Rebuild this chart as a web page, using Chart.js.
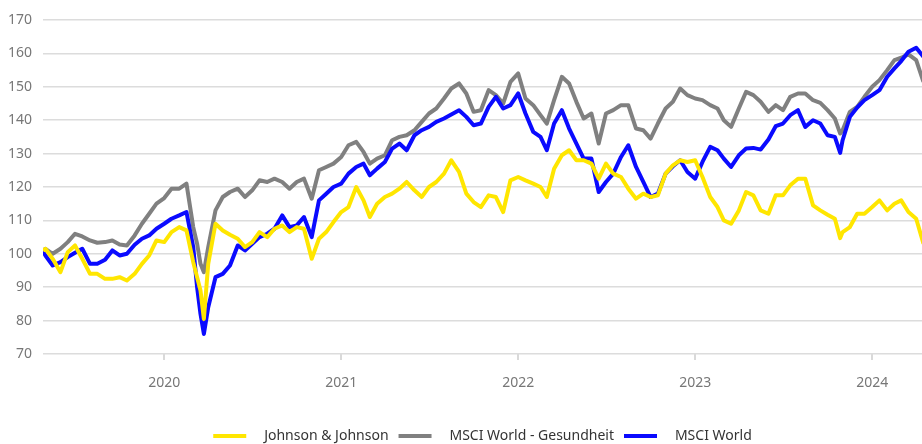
<!DOCTYPE html>
<html>
<head>
<meta charset="utf-8">
<title>Johnson & Johnson vs. MSCI World</title>
<script src="https://cdn.jsdelivr.net/npm/chart.js@4.4.1/dist/chart.umd.min.js"></script>
<style>
  html, body { margin: 0; padding: 0; background: #fff; }
  #wrap { position: relative; width: 922px; height: 444px; }
</style>
</head>
<body>
<div id="wrap"><canvas id="perfChart"></canvas></div>
<script>
// sample dates (roughly twice a month, plus a few extra around sharp moves)
const dates = [
  '2019-04-26', '2019-05-01', '2019-05-16', '2019-06-01', '2019-06-16', '2019-07-01', '2019-07-16', '2019-08-01', '2019-08-16',
  '2019-09-01', '2019-09-16', '2019-10-01', '2019-10-16', '2019-11-01', '2019-11-16', '2019-12-01', '2019-12-16',
  '2020-01-01', '2020-01-16', '2020-02-01', '2020-02-16', '2020-03-01', '2020-03-09', '2020-03-16', '2020-03-23', '2020-04-01',
  '2020-04-16', '2020-05-01', '2020-05-16', '2020-06-01', '2020-06-16', '2020-07-01', '2020-07-16', '2020-08-01', '2020-08-16',
  '2020-09-01', '2020-09-16', '2020-10-01', '2020-10-16', '2020-11-01', '2020-11-16', '2020-12-01', '2020-12-16',
  '2021-01-01', '2021-01-16', '2021-02-01', '2021-02-16', '2021-03-01', '2021-03-16', '2021-04-01', '2021-04-16', '2021-05-01',
  '2021-05-16', '2021-06-01', '2021-06-16', '2021-07-01', '2021-07-16', '2021-08-01', '2021-08-16', '2021-09-01', '2021-09-16',
  '2021-10-01', '2021-10-16', '2021-11-01', '2021-11-16', '2021-12-01', '2021-12-16',
  '2022-01-01', '2022-01-16', '2022-02-01', '2022-02-16', '2022-03-01', '2022-03-16', '2022-04-01', '2022-04-16', '2022-05-01',
  '2022-05-16', '2022-06-01', '2022-06-16', '2022-07-01', '2022-07-16', '2022-08-01', '2022-08-16', '2022-09-01', '2022-09-16',
  '2022-10-01', '2022-10-16', '2022-11-01', '2022-11-16', '2022-12-01', '2022-12-16',
  '2023-01-01', '2023-01-16', '2023-02-01', '2023-02-16', '2023-03-01', '2023-03-16', '2023-04-01', '2023-04-16', '2023-05-01',
  '2023-05-16', '2023-06-01', '2023-06-16', '2023-07-01', '2023-07-16', '2023-08-01', '2023-08-16', '2023-09-01', '2023-09-16',
  '2023-10-01', '2023-10-16', '2023-10-27', '2023-11-01', '2023-11-16', '2023-12-01', '2023-12-16',
  '2024-01-01', '2024-01-16', '2024-02-01', '2024-02-16', '2024-03-01', '2024-03-16', '2024-04-01', '2024-04-16'
];

const jnj = [
  101, 101.5, 98.5, 94.5, 100.5, 102.5, 98.5, 94, 94, 92.5, 92.5, 93, 92, 94, 97, 99.5, 104,
  103.5, 106.5, 108, 107, 97.5, 93, 89, 80.5, 97, 109, 107, 105.7, 104.5, 102, 103.5, 106.5, 105,
  107.5, 108.5, 106.5, 108, 107.5, 98.5, 104.5, 106.5, 109.5,
  112.5, 114, 120, 116, 111, 115, 117, 118, 119.5, 121.5, 119, 117, 120, 121.5, 124, 128, 124.5,
  118, 115.5, 114, 117.5, 117, 112.5, 122,
  123, 122, 121, 120, 117, 125.5, 129.5, 131, 128, 128, 127, 122.5, 127, 124, 123, 119.5, 116.5,
  118, 117, 117.5, 124, 126.5, 128, 127.5,
  128, 123, 117, 114, 110, 109, 113, 118.5, 117.5, 113, 112, 117.5, 117.5, 120.5, 122.5, 122.5, 114.5,
  113, 111.7, 110.5, 104.7, 106.5, 108, 112, 112,
  114, 116, 113, 115, 116, 112.5, 110.5, 103
];

const health = [
  101, 101.5, 100, 101.5, 103.5, 106, 105.2, 104, 103.3, 103.5, 104, 102.8, 102.5, 105.5, 109, 112, 115,
  116.7, 119.5, 119.5, 121, 108, 103, 97, 94.5, 102, 113, 117, 118.5, 119.5, 117, 119, 122, 121.5,
  122.5, 121.5, 119.5, 121.5, 122.5, 116.5, 125, 126, 127,
  129, 132.5, 133.5, 130.5, 127, 128.5, 129.5, 134, 135, 135.5, 137, 139.5, 142, 143.5, 146.5, 149.5, 151,
  148, 142.5, 143, 149, 147.5, 145, 151.5,
  154, 146.5, 144.5, 141.5, 139, 146, 153, 151, 145.5, 140.5, 142, 133, 142, 143, 144.5, 144.5, 137.5,
  137, 134.5, 139, 143.5, 145.5, 149.5, 147.5,
  146.5, 146, 144.5, 143.5, 140, 138, 143.5, 148.5, 147.5, 145.5, 142.5, 144.5, 143, 147, 148, 148, 146,
  145.2, 143, 140.5, 136, 137, 142.5, 144, 147,
  150, 152, 155, 158, 158.7, 159.7, 158, 151.5
];

const world = [
  100.7, 99.5, 96.5, 97.5, 99, 100.3, 101.5, 97, 97, 98.2, 101, 99.5, 100, 102.7, 104.5, 105.5, 107.5,
  109, 110.5, 111.5, 112.5, 102, 90, 82, 76, 84, 93, 94, 96.5, 102.5, 101, 103, 105, 106,
  107.5, 111.5, 108, 108.5, 111, 105, 116, 118, 120,
  121, 124, 126, 127, 123.5, 125.5, 127.5, 131.5, 133, 131, 135.5, 137, 138, 139.5, 140.5, 141.7, 143,
  141, 138.5, 139, 144, 147, 143.5, 144.5,
  148, 142, 136.5, 135, 131, 139, 143, 137.5, 133, 128.5, 128.5, 118.5, 121.5, 124, 129, 132.5, 126,
  121.5, 117, 118, 124, 126.2, 128, 124.5,
  122.5, 127.5, 132, 131, 128.5, 126, 129.5, 131.5, 131.7, 131.2, 134.2, 138.2, 139, 141.5, 143, 138, 140,
  139, 135.5, 135, 130.2, 134, 141, 143.8, 146,
  147.5, 149, 153, 155.5, 157.7, 160.5, 161.7, 159
];

const yearTicks = [2020, 2021, 2022, 2023, 2024];
const xRange = ['2019-04-26', '2024-04-13'];

// date string -> fractional year, so a plain linear axis can be used
function toYear(s) {
    const [y, m, d] = s.split('-').map(Number);
    const start = Date.UTC(y, 0, 1);
    const len = Date.UTC(y + 1, 0, 1) - start;
    return y + (Date.UTC(y, m - 1, d) - start) / len;
}

const xs = dates.map(toYear);
const points = (vals) => vals.map((v, i) => ({ x: xs[i], y: v }));

const font = { family: "'Noto Sans', sans-serif", size: 14 };

const lineStyle = {
    borderWidth: 4,
    pointRadius: 0,
    pointHoverRadius: 0,
    tension: 0,
    borderJoinStyle: 'round'
};

const ctx = document.getElementById('perfChart').getContext('2d');

const perfChart = new Chart(ctx, {
    type: 'line',
    data: {
        datasets: [
            { ...lineStyle, label: 'Johnson & Johnson', data: points(jnj), borderColor: '#ffe600', backgroundColor: '#ffe600', order: 0 },
            { ...lineStyle, label: 'MSCI World - Gesundheit', data: points(health), borderColor: '#808080', backgroundColor: '#808080', order: 2 },
            { ...lineStyle, label: 'MSCI World', data: points(world), borderColor: '#0a0aff', backgroundColor: '#0a0aff', order: 1 }
        ]
    },
    options: {
        responsive: true,
        maintainAspectRatio: false,
        animation: false,
        layout: { padding: { top: 20, right: 0, bottom: -9, left: 0 } },
        plugins: {
            tooltip: { enabled: false },
            legend: {
                position: 'bottom',
                fullSize: false,
                labels: {
                    boxWidth: 33,
                    boxHeight: 4,
                    padding: 10,
                    color: '#333',
                    font: font,
                    sort: (a, b) => a.datasetIndex - b.datasetIndex,
                    generateLabels: (chart) =>
                        Chart.defaults.plugins.legend.labels.generateLabels(chart)
                            .map(item => ({ ...item, lineWidth: 0, text: '   ' + item.text }))
                }
            }
        },
        scales: {
            x: {
                type: 'linear',
                min: toYear(xRange[0]),
                max: toYear(xRange[1]),
                afterBuildTicks: (scale) => { scale.ticks = yearTicks.map(v => ({ value: v })); },
                afterFit: (scale) => { scale.height = 65; },
                grid: { drawOnChartArea: false, drawTicks: true, tickLength: 6, color: '#d9d9d9', lineWidth: 2 },
                border: { display: false },
                ticks: {
                    color: '#777',
                    font: font,
                    padding: 15,
                    maxRotation: 0,
                    autoSkip: false,
                    callback: (v) => String(v)
                }
            },
            y: {
                min: 70,
                max: 170,
                afterFit: (scale) => { scale.width = 43; },
                grid: { color: '#dcdcdc', lineWidth: 1.5, drawTicks: false },
                border: { display: false },
                ticks: { stepSize: 10, padding: 11, color: '#777', font: font }
            }
        }
    }
});
</script>
</body>
</html>
